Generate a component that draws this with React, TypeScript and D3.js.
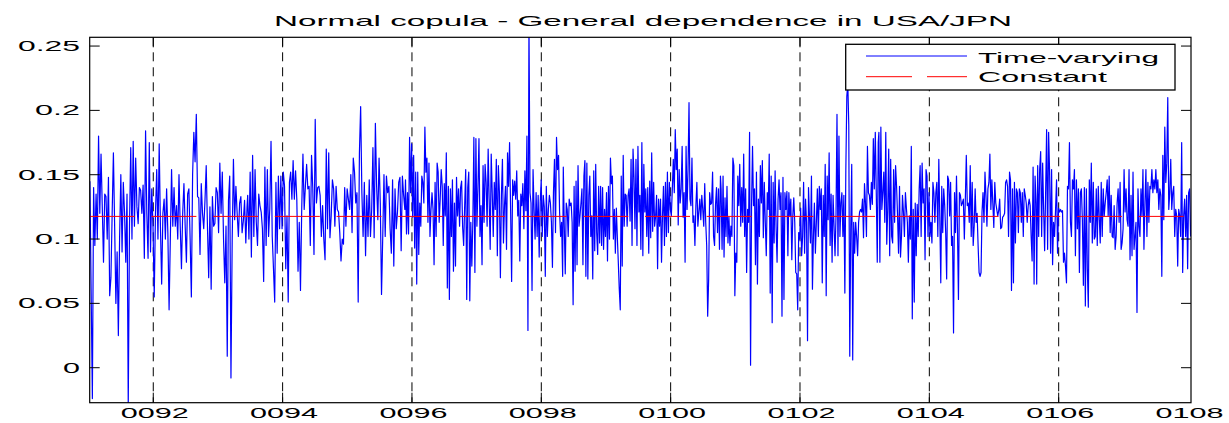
import React from "react";
import * as d3 from "d3";

// Time-varying series in seven consecutive chunks
const seg1 = [0.145,0.060,-0.024,0.140,0.095,0.135,0.100,0.180,0.120,0.166,0.125,0.082,0.135,0.133,0.100,0.148,0.056,0.070,0.120,0.167,0.110,0.050,0.090,0.025,0.100,0.150,0.090,0.144,0.120,0.082,0.135,-0.030,0.110,0.171,0.100,0.176,0.110,0.163,0.125,0.112,0.140,0.138,0.120,0.142,0.085,0.184,0.120,0.085,0.175,0.090,0.139,0.110,0.055,0.120,0.154,0.100,0.174,0.110,0.065,0.120,0.131,0.100,0.139,0.105,0.045,0.100,0.154,0.110,0.140,0.110,0.126,0.100,0.150,0.110,0.077,0.120,0.143,0.110,0.082,0.135,0.139,0.100,0.055,0.150,0.183,0.160,0.197,0.133,0.132,0.088,0.143,0.120,0.108,0.130,0.157,0.110,0.070,0.125,0.061,0.133,0.110,0.112,0.140,0.136,0.105,0.159,0.120,0.152,0.100,0.066,0.110,0.009,0.130,0.149,-0.008,0.100,0.162,0.115,0.141,0.120,0.102,0.128,0.133,0.105,0.114,0.130,0.097,0.125];
const seg2 = [0.134,0.100,0.152,0.086,0.165,0.102,0.154,0.113,0.095,0.135,0.126,0.121,0.108,0.067,0.156,0.095,0.154,0.102,0.124,0.176,0.102,0.077,0.051,0.144,0.089,0.149,0.108,0.149,0.108,0.152,0.141,0.077,0.118,0.051,0.144,0.152,0.131,0.161,0.131,0.153,0.131,0.075,0.113,0.060,0.123,0.166,0.123,0.141,0.158,0.139,0.141,0.095,0.165,0.140,0.088,0.193,0.128,0.140,0.141,0.134,0.102,0.126,0.100,0.084,0.170,0.108,0.167,0.101,0.118,0.146,0.139,0.110,0.141,0.123,0.121,0.105,0.083,0.100,0.096,0.140,0.110,0.139,0.131,0.123,0.150,0.105,0.163,0.152,0.128,0.136,0.051,0.167,0.203,0.136,0.102,0.144,0.087,0.134,0.102,0.146,0.102,0.123,0.171,0.101,0.190,0.141,0.115,0.163,0.128,0.057,0.102,0.150,0.102,0.149,0.136,0.141,0.108,0.089,0.146,0.079,0.139,0.108,0.121,0.144,0.148,0.091,0.149,0.134,0.123];
const seg3 = [0.146,0.104,0.136,0.104,0.179,0.136,0.174,0.117,0.165,0.093,0.152,0.065,0.152,0.088,0.128,0.110,0.149,0.144,0.128,0.187,0.152,0.163,0.113,0.159,0.102,0.123,0.136,0.123,0.080,0.144,0.102,0.159,0.152,0.113,0.131,0.154,0.141,0.095,0.143,0.118,0.167,0.062,0.141,0.053,0.139,0.102,0.146,0.075,0.128,0.079,0.148,0.118,0.139,0.110,0.140,0.145,0.109,0.095,0.126,0.154,0.053,0.140,0.152,0.052,0.113,0.079,0.113,0.179,0.074,0.178,0.110,0.140,0.178,0.102,0.126,0.080,0.157,0.113,0.158,0.144,0.110,0.170,0.131,0.092,0.166,0.136,0.102,0.144,0.123,0.162,0.087,0.157,0.137,0.070,0.134,0.162,0.097,0.126,0.141,0.092,0.167,0.141,0.175,0.123,0.067,0.146,0.134,0.145,0.131,0.153,0.118,0.130,0.083,0.135,0.126,0.143,0.108,0.153,0.122,0.180,0.029,0.268,0.136,0.128,0.060,0.154,0.123,0.100,0.136,0.102,0.134,0.086,0.128,0.146,0.102,0.134,0.125,0.071,0.141,0.102,0.123,0.134,0.128,0.113,0.078,0.136,0.162,0.105,0.179,0.154,0.165,0.121,0.102,0.113,0.071];
const seg4 = [0.156,0.110,0.073,0.128,0.123,0.102,0.131,0.126,0.128,0.113,0.049,0.141,0.075,0.145,0.080,0.157,0.110,0.118,0.128,0.139,0.080,0.149,0.161,0.071,0.159,0.069,0.134,0.149,0.102,0.118,0.069,0.153,0.091,0.158,0.105,0.088,0.141,0.097,0.141,0.095,0.140,0.092,0.123,0.102,0.136,0.083,0.141,0.100,0.163,0.143,0.149,0.100,0.123,0.089,0.124,0.102,0.082,0.061,0.045,0.149,0.079,0.165,0.110,0.135,0.134,0.110,0.134,0.139,0.114,0.162,0.095,0.170,0.148,0.108,0.162,0.095,0.172,0.121,0.134,0.092,0.175,0.087,0.158,0.121,0.139,0.102,0.140,0.089,0.145,0.101,0.167,0.106,0.144,0.110,0.118,0.134,0.077,0.131,0.110,0.131,0.082,0.118,0.141,0.095,0.144,0.102,0.152,0.105,0.144,0.123,0.118,0.139,0.162,0.136,0.185,0.154,0.170,0.111,0.154,0.128,0.139,0.172,0.117,0.136,0.082,0.172,0.123,0.154,0.206,0.131,0.126,0.163,0.113,0.118,0.095,0.126,0.144,0.110,0.121,0.131,0.115,0.134,0.123,0.110,0.143,0.113,0.095,0.040,0.069,0.136,0.127,0.128,0.152,0.102,0.095,0.127,0.140,0.105,0.139,0.092,0.149];
const seg5 = [0.139,0.092,0.149,0.086,0.132,0.102,0.141,0.097,0.117,0.095,0.110,0.102,0.163,0.157,0.056,0.089,0.082,0.149,0.126,0.158,0.110,0.140,0.113,0.166,0.102,0.139,0.074,0.123,0.113,0.183,0.002,0.126,0.172,0.126,0.139,0.080,0.152,0.065,0.131,0.102,0.157,0.128,0.161,0.101,0.144,0.113,0.087,0.136,0.123,0.166,0.058,0.149,0.035,0.144,0.097,0.153,0.109,0.082,0.131,0.146,0.123,0.136,0.040,0.148,0.053,0.136,0.123,0.137,0.087,0.136,0.118,0.131,0.084,0.118,0.132,0.113,0.074,0.073,0.045,0.105,0.100,0.124,0.087,0.102,0.144,0.089,0.131,0.113,0.021,0.140,0.117,0.097,0.149,0.061,0.102,0.128,0.089,0.113,0.139,0.102,0.141,0.123,0.139,0.066,0.134,0.102,0.158,0.056,0.149,0.115,0.167,0.095,0.135,0.082,0.134,0.110,0.087,0.118,0.197,0.087,0.180,0.102,0.128,0.136,0.102,0.134,0.058,0.154,0.211,0.221,0.188,0.009,0.108,0.158,0.006,0.113,0.089,0.113,0.102,0.087,0.113,0.121,0.123,0.121,0.131,0.101,0.143,0.128,0.102,0.172,0.136,0.134,0.123,0.144,0.127,0.178,0.139,0.183,0.136,0.082,0.175];
const seg6 = [0.183,0.082,0.187,0.123,0.136,0.152,0.113,0.183,0.096,0.123,0.170,0.087,0.162,0.102,0.097,0.154,0.113,0.157,0.141,0.118,0.089,0.141,0.086,0.102,0.134,0.121,0.102,0.136,0.124,0.113,0.082,0.118,0.100,0.172,0.038,0.123,0.051,0.128,0.087,0.127,0.102,0.139,0.157,0.102,0.159,0.128,0.139,0.084,0.154,0.149,0.102,0.136,0.102,0.113,0.097,0.144,0.136,0.113,0.136,0.144,0.102,0.162,0.118,0.066,0.141,0.105,0.139,0.126,0.105,0.069,0.149,0.146,0.118,0.144,0.095,0.102,0.027,0.136,0.105,0.149,0.108,0.053,0.136,0.134,0.126,0.128,0.131,0.100,0.131,0.165,0.126,0.128,0.113,0.157,0.102,0.144,0.095,0.110,0.139,0.113,0.120,0.095,0.074,0.071,0.074,0.121,0.136,0.113,0.152,0.134,0.110,0.139,0.144,0.166,0.123,0.146,0.128,0.109,0.144,0.128,0.123,0.118,0.122,0.131,0.108,0.109,0.117,0.118,0.120,0.144,0.146,0.141,0.102,0.152,0.146,0.060,0.139,0.066,0.144,0.097,0.139,0.136,0.105,0.139,0.136,0.113,0.136,0.102,0.139,0.134,0.128,0.113,0.126,0.131,0.126,0.102,0.083,0.156,0.065,0.149,0.128];
const seg7 = [0.065,0.157,0.102,0.154,0.168,0.102,0.159,0.123,0.091,0.136,0.185,0.092,0.183,0.152,0.089,0.154,0.080,0.113,0.102,0.123,0.146,0.089,0.124,0.121,0.123,0.121,0.122,0.082,0.089,0.079,0.066,0.141,0.139,0.175,0.113,0.102,0.146,0.139,0.154,0.087,0.146,0.108,0.139,0.074,0.136,0.139,0.115,0.064,0.140,0.048,0.139,0.077,0.047,0.146,0.113,0.159,0.097,0.144,0.100,0.102,0.139,0.095,0.141,0.117,0.097,0.144,0.102,0.139,0.118,0.128,0.136,0.146,0.118,0.149,0.105,0.134,0.102,0.101,0.126,0.092,0.102,0.128,0.139,0.113,0.144,0.092,0.097,0.108,0.154,0.121,0.139,0.115,0.110,0.154,0.084,0.134,0.087,0.152,0.092,0.102,0.113,0.043,0.139,0.110,0.102,0.139,0.118,0.154,0.092,0.128,0.154,0.102,0.144,0.113,0.141,0.139,0.154,0.136,0.146,0.139,0.154,0.136,0.146,0.123,0.139,0.134,0.071,0.165,0.115,0.187,0.144,0.159,0.210,0.123,0.136,0.162,0.123,0.136,0.141,0.102,0.123,0.118,0.079,0.123,0.118,0.102,0.175,0.074,0.118,0.131,0.102,0.134,0.077,0.136,0.139,0.102];

// time span (in years, axis units) covered by each chunk
const segStarts = [91.02, 93.46, 95.9, 98.34, 100.78, 103.22, 105.66];
const segEnds = [93.45, 95.89, 98.33, 100.77, 103.21, 105.65, 108.04];

const constantValue = 0.1176;

const xTicks = [92, 94, 96, 98, 100, 102, 104, 106, 108];
const xTickLabels = ["0092", "0094", "0096", "0098", "0100", "0102", "0104", "0106", "0108"];
const yTicks = [0, 0.05, 0.1, 0.15, 0.2, 0.25];
const yTickLabels = ["0", "0.05", "0.1", "0.15", "0.2", "0.25"];

const titleText = "Normal copula - General dependence in USA/JPN";
const legendLabels = ["Time-varying", "Constant"];

const FONT = "'Liberation Sans', Arial, Helvetica, sans-serif";

function labelWidth(s: string) {
  let w = 0;
  for (const c of s) w += c === "." ? 11 : 17;
  return w;
}

export default function App() {
  const W = 1229, H = 423;
  const L = 89.7, R = 1191, T = 37.3, B = 402.7;
  const x = d3.scaleLinear().domain([91.017, 108.046]).range([L, R]);
  const y = d3.scaleLinear().domain([-0.0272, 0.2568]).range([B, T]);

  const segs = [seg1, seg2, seg3, seg4, seg5, seg6, seg7];
  const pts: [number, number][] = [];
  segs.forEach((s, k) => {
    const n = s.length;
    s.forEach((v, i) => {
      pts.push([segStarts[k] + ((segEnds[k] - segStarts[k]) * i) / (n - 1), v]);
    });
  });
  const line = d3.line<[number, number]>().x((d) => x(d[0])).y((d) => y(d[1]));
  const path = line(pts) || "";

  const tick = 10;
  // gridlines only where they don't sit on the right frame
  const gridTicks = xTicks.filter((t) => R - x(t) > 4);

  return (
    <svg
      width={W}
      height={H}
      style={{ position: "absolute", left: 0, top: 0, background: "#fff" }}
      fontFamily={FONT}
    >
      <defs>
        <clipPath id="plotclip">
          <rect x={L} y={T} width={R - L} height={B - T} />
        </clipPath>
      </defs>
      <rect x={0} y={0} width={W} height={H} fill="#fff" />

      {/* vertical dashed gridlines */}
      {gridTicks.map((t) => (
        <line
          key={"g" + t}
          x1={x(t)}
          x2={x(t)}
          y1={T}
          y2={B}
          stroke="#000"
          strokeWidth={1}
          strokeDasharray="9,6"
        />
      ))}

      <g clipPath="url(#plotclip)">
        <path d={path} fill="none" stroke="#0000ff" strokeWidth={1.2} strokeLinejoin="round" />
        <line
          x1={L}
          x2={R}
          y1={y(constantValue)}
          y2={y(constantValue)}
          stroke="#ff0000"
          strokeWidth={1}
          strokeDasharray="45,16.7"
        />
      </g>

      {/* axes box */}
      <rect x={L} y={T} width={R - L} height={B - T} fill="none" stroke="#000" strokeWidth={1.2} />

      {/* ticks */}
      {yTicks.map((t) => (
        <g key={"yt" + t}>
          <line x1={L} x2={L + tick} y1={y(t)} y2={y(t)} stroke="#000" strokeWidth={1} />
          <line x1={R} x2={R - tick} y1={y(t)} y2={y(t)} stroke="#000" strokeWidth={1} />
        </g>
      ))}
      {gridTicks.map((t) => (
        <g key={"xt" + t}>
          <line x1={x(t)} x2={x(t)} y1={B} y2={B - tick} stroke="#000" strokeWidth={1} />
          <line x1={x(t)} x2={x(t)} y1={T} y2={T + tick} stroke="#000" strokeWidth={1} />
        </g>
      ))}

      {/* y tick labels */}
      {yTicks.map((t, i) => (
        <text
          key={"yl" + t}
          x={80 - labelWidth(yTickLabels[i])}
          y={y(t) + 5}
          fontSize={14}
          fill="#000"
          textLength={labelWidth(yTickLabels[i])}
          lengthAdjust="spacingAndGlyphs"
        >
          {yTickLabels[i]}
        </text>
      ))}

      {/* x tick labels */}
      {xTicks.map((t, i) => (
        <text
          key={"xl" + t}
          x={x(t) - labelWidth(xTickLabels[i]) / 2 + 1.5}
          y={418}
          fontSize={14}
          fill="#000"
          textLength={labelWidth(xTickLabels[i])}
          lengthAdjust="spacingAndGlyphs"
        >
          {xTickLabels[i]}
        </text>
      ))}

      {/* title */}
      <text x={274} y={26} fontSize={14.5} fill="#000" textLength={738} lengthAdjust="spacingAndGlyphs">
        {titleText}
      </text>

      {/* legend */}
      <g>
        <rect x={845.7} y={44.3} width={329.3} height={45.7} fill="#fff" stroke="#000" strokeWidth={1.3} />
        <line x1={866} x2={967} y1={56} y2={56} stroke="#0000ff" strokeWidth={1} />
        <line x1={866} x2={967} y1={76.7} y2={76.7} stroke="#ff0000" strokeWidth={1} strokeDasharray="46,15" />
        <text x={978} y={62.5} fontSize={15} fill="#000" textLength={181} lengthAdjust="spacingAndGlyphs">
          {legendLabels[0]}
        </text>
        <text x={978} y={82} fontSize={15} fill="#000" textLength={129} lengthAdjust="spacingAndGlyphs">
          {legendLabels[1]}
        </text>
      </g>
    </svg>
  );
}
